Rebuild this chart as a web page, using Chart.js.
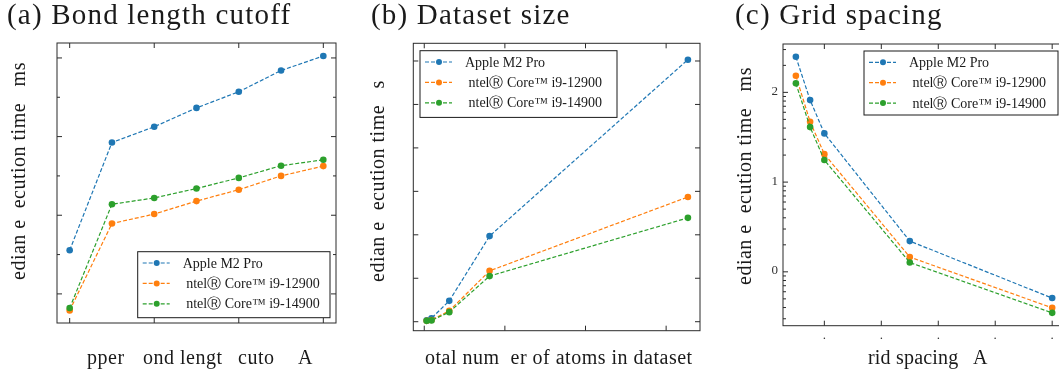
<!DOCTYPE html>
<html>
<head>
<meta charset="utf-8">
<script src="https://cdn.jsdelivr.net/npm/chart.js@4/dist/chart.umd.min.js"></script>
<style>
  html, body { margin: 0; padding: 0; background: #fff; }
  body { position: relative; width: 1059px; height: 372px; overflow: hidden; }
  canvas { position: absolute; top: 0; }
  .txt { position: absolute; font-family: "Liberation Serif", serif; color: #1a1a1a; white-space: pre; }
  .ttl { top: 0; font-size: 29px; line-height: 28px; letter-spacing: 1.2px; }
  .xl { top: 347px; font-size: 20px; line-height: 20px; letter-spacing: 0.5px; }
  .yl { font-size: 20px; line-height: 20px; letter-spacing: 0.5px; transform-origin: 0 0; transform: rotate(-90deg); }
</style>
</head>
<body>
<canvas id="cutoffChart" width="353" height="372" style="left:0"></canvas>
<canvas id="sizeChart" width="353" height="372" style="left:353px"></canvas>
<canvas id="gridChart" width="380" height="372" style="left:706px"></canvas>

<div class="txt ttl" style="left:7px">(a) Bond length cutoff</div>
<div class="txt ttl" style="left:371px">(b) Dataset size</div>
<div class="txt ttl" style="left:735px">(c) Grid spacing</div>

<div class="txt yl" style="left:8px; top:280px">edian e  ecution time   ms</div>
<div class="txt yl" style="left:367px; top:282px">edian e  ecution time   s</div>
<div class="txt yl" style="left:734px; top:285px">edian e  ecution time   ms</div>

<div class="txt xl" style="left:87px">pper</div>
<div class="txt xl" style="left:143px">ond lengt</div>
<div class="txt xl" style="left:238px">cuto</div>
<div class="txt xl" style="left:298px">A</div>
<div class="txt xl" style="left:425px">otal num  er of atoms in dataset</div>
<div class="txt xl" style="left:868px; letter-spacing:0.2px">rid spacing   A</div>

<script>
// (a) bond length cutoff
const cutoffValues = [1.0, 1.5, 2.0, 2.5, 3.0, 3.5, 4.0];
const cutoffApple = [1.11, 3.85, 4.25, 4.73, 5.14, 5.68, 6.05];
const cutoff12900 = [-0.42, 1.79, 2.03, 2.36, 2.65, 3.00, 3.25];
const cutoff14900 = [-0.36, 2.28, 2.44, 2.68, 2.95, 3.26, 3.41];
const cutoffXTicks = [1, 2, 3, 4];
const cutoffYTicks = [0, 1, 2, 3, 4, 5, 6];

// (b) dataset size
const atomCounts = [0.03, 0.09, 0.31, 0.81, 3.27];
const sizeApple = [0.03, 0.08, 0.48, 1.97, 6.03];
const size12900 = [0.02, 0.04, 0.25, 1.17, 2.87];
const size14900 = [0.02, 0.03, 0.22, 1.05, 2.39];
const sizeXTicks = [0, 1, 2, 3];
const sizeYTicks = [0, 1, 2, 3, 4, 5, 6];

// (c) grid spacing (log y)
const gridSpacing = [0.05, 0.075, 0.1, 0.25, 0.5];
const gridApple = [249, 82, 34.9, 2.2, 0.51];
const grid12900 = [153, 47, 20.5, 1.46, 0.397];
const grid14900 = [126, 41, 17.6, 1.27, 0.349];
const gridXTicks = [0.1, 0.2, 0.3, 0.4, 0.5];
const gridXLabels = ['.', '.', '.', '.', '.'];
const gridYTicks = [1, 10, 100];
const gridYLabels = ['0', '1', '2'];

const seriesNames = ['Apple M2 Pro', ' ntel\u24C7 Core\u2122 i9-12900', ' ntel\u24C7 Core\u2122 i9-14900'];
const seriesColors = ['#1f77b4', '#ff7f0e', '#2ca02c'];

const SERIF = '"Liberation Serif", serif';

// frame, inward ticks on all sides and tick labels, like matplotlib
const frameTicks = {
  id: 'frameTicks',
  afterDatasetsDraw(chart, args, opts) {
    const { ctx, chartArea: a } = chart;
    const x = chart.scales.x, y = chart.scales.y;
    ctx.save();
    ctx.strokeStyle = '#2b2b2b';
    ctx.lineWidth = 1;
    ctx.strokeRect(a.left, a.top, a.right - a.left, a.bottom - a.top);
    ctx.beginPath();
    (opts.xTicks || []).forEach(t => {
      const px = x.getPixelForValue(t.v), len = t.major ? 5 : 3;
      ctx.moveTo(px, a.bottom); ctx.lineTo(px, a.bottom - len);
      ctx.moveTo(px, a.top); ctx.lineTo(px, a.top + len);
    });
    (opts.yTicks || []).forEach(t => {
      const py = y.getPixelForValue(t.v), len = t.major ? 5 : 3;
      ctx.moveTo(a.left, py); ctx.lineTo(a.left + len, py);
      ctx.moveTo(a.right, py); ctx.lineTo(a.right - len, py);
    });
    ctx.stroke();

    ctx.fillStyle = '#333';
    ctx.font = '13px ' + SERIF;
    ctx.textAlign = 'center';
    ctx.textBaseline = 'alphabetic';
    (opts.xLabels || []).forEach(t => {
      ctx.fillText(t.text, x.getPixelForValue(t.v), a.bottom + 13.6);
    });
    ctx.textAlign = 'right';
    ctx.textBaseline = 'middle';
    (opts.yLabels || []).forEach(t => {
      ctx.fillText(t.text, a.left - 5, y.getPixelForValue(t.v) - 1);
    });
    ctx.restore();
  }
};

// boxed legend inside the axes
const boxLegend = {
  id: 'boxLegend',
  afterDraw(chart, args, opts) {
    const ctx = chart.ctx;
    const { x, y, w, h } = opts;
    ctx.save();
    ctx.fillStyle = '#fff';
    ctx.fillRect(x, y, w, h);
    ctx.strokeStyle = '#1a1a1a';
    ctx.lineWidth = 1;
    ctx.strokeRect(x, y, w, h);
    ctx.font = '14px ' + SERIF;
    ctx.textBaseline = 'middle';
    seriesNames.forEach((name, i) => {
      const ry = y + 11.3 + i * 20.4;
      ctx.strokeStyle = seriesColors[i];
      ctx.lineWidth = 1.2;
      ctx.setLineDash([4, 2]);
      ctx.beginPath();
      ctx.moveTo(x + 5, ry); ctx.lineTo(x + 32, ry);
      ctx.stroke();
      ctx.setLineDash([]);
      ctx.fillStyle = seriesColors[i];
      ctx.beginPath();
      ctx.arc(x + 19, ry, 3, 0, Math.PI * 2);
      ctx.fill();
      ctx.fillStyle = '#1a1a1a';
      ctx.fillText(name, x + 45, ry + 1);
    });
    ctx.restore();
  }
};

function makeDatasets(xs, series) {
  return series.map((ys, i) => ({
    label: seriesNames[i],
    data: xs.map((v, j) => ({ x: v, y: ys[j] })),
    borderColor: seriesColors[i],
    backgroundColor: seriesColors[i],
    pointBackgroundColor: seriesColors[i],
    borderWidth: 1.2,
    borderDash: [4, 2],
    pointRadius: 3.3,
    pointBorderWidth: 0,
    tension: 0,
    order: 3 - i
  }));
}

function makeChart(id, cfg) {
  const canvas = document.getElementById(id);
  const W = canvas.width, H = canvas.height, area = cfg.area;
  return new Chart(canvas, {
    type: 'line',
    data: { datasets: makeDatasets(cfg.xs, cfg.series) },
    options: {
      responsive: false,
      animation: false,
      layout: { padding: { top: area.top, right: W - area.right, left: 0, bottom: 0 } },
      plugins: {
        legend: { display: false },
        tooltip: { enabled: false },
        frameTicks: {
          xTicks: cfg.xTickMarks, yTicks: cfg.yTickMarks,
          xLabels: cfg.xLabels, yLabels: cfg.yLabels
        },
        boxLegend: cfg.legend
      },
      scales: {
        x: {
          type: 'linear',
          min: cfg.xRange[0], max: cfg.xRange[1],
          grid: { display: false, drawTicks: false },
          border: { display: false },
          ticks: { display: false },
          afterFit: s => { s.height = H - area.bottom; }
        },
        y: {
          type: cfg.yType || 'linear',
          min: cfg.yRange[0], max: cfg.yRange[1],
          grid: { display: false, drawTicks: false },
          border: { display: false },
          ticks: { display: false },
          afterFit: s => { s.width = area.left; }
        }
      }
    },
    plugins: [frameTicks, boxLegend]
  });
}

// log minor ticks for panel (c)
const gridYTickMarks = [];
[0.1, 1, 10, 100].forEach(d => {
  for (let m = 1; m <= 9; m++) {
    const v = m * d;
    if (v >= 0.251 && v <= 346) gridYTickMarks.push({ v: v, major: m === 1 });
  }
});

makeChart('cutoffChart', {
  xs: cutoffValues,
  series: [cutoffApple, cutoff12900, cutoff14900],
  area: { left: 57, right: 336, top: 43, bottom: 323 },
  xRange: [0.85, 4.15], yRange: [-0.74, 6.38],
  xTickMarks: cutoffXTicks.map(v => ({ v, major: true })),
  yTickMarks: cutoffYTicks.map(v => ({ v, major: v % 2 === 0 })),
  legend: { x: 137.7, y: 251.7, w: 192.3, h: 66 }
});

makeChart('sizeChart', {
  xs: atomCounts,
  series: [sizeApple, size12900, size14900],
  area: { left: 60.3, right: 347, top: 43.3, bottom: 330.7 },
  xRange: [-0.136, 3.42], yRange: [-0.207, 6.407],
  xTickMarks: sizeXTicks.map(v => ({ v, major: true })),
  yTickMarks: sizeYTicks.map(v => ({ v, major: true })),
  legend: { x: 67, y: 50.7, w: 197, h: 66.7 }
});

makeChart('gridChart', {
  xs: gridSpacing,
  series: [gridApple, grid12900, grid14900],
  area: { left: 77, right: 359, top: 44, bottom: 325.7 },
  xRange: [0.0274, 0.5225], yRange: [0.251, 346], yType: 'logarithmic',
  xTickMarks: gridXTicks.map(v => ({ v, major: true })),
  yTickMarks: gridYTickMarks,
  xLabels: gridXTicks.map((v, i) => ({ v, text: gridXLabels[i] })),
  yLabels: gridYTicks.map((v, i) => ({ v, text: gridYLabels[i] })),
  legend: { x: 158, y: 51, w: 194, h: 64 }
});
</script>
</body>
</html>
